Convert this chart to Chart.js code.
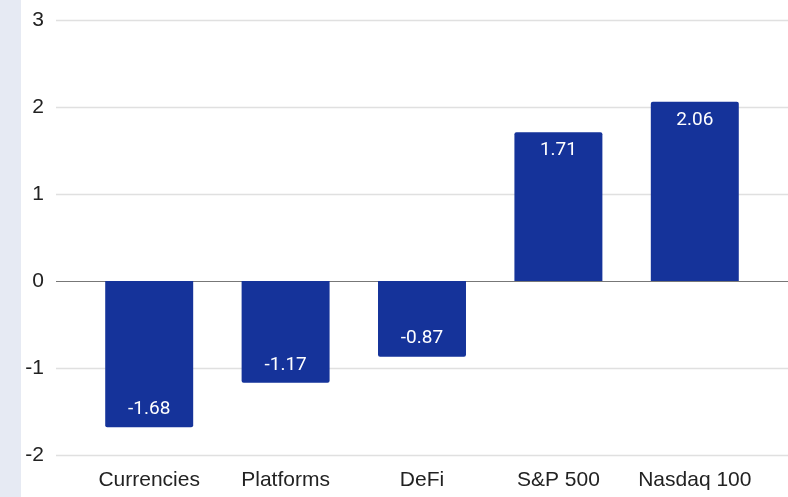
<!DOCTYPE html>
<html>
<head>
<meta charset="utf-8">
<script src="https://cdn.jsdelivr.net/npm/chart.js@4.4.0/dist/chart.umd.min.js"></script>
<style>
  html, body { margin: 0; padding: 0; }
  body { background: linear-gradient(to right, #e6eaf3 0, #e6eaf3 21px, #ffffff 21px); }
  #wrap { width: 788px; height: 497px; position: relative; }
</style>
</head>
<body>
<div id="wrap"><canvas id="chart" width="788" height="497"></canvas></div>
<script>
const categories = ['Currencies', 'Platforms', 'DeFi', 'S&P 500', 'Nasdaq 100'];
const values = [-1.68, -1.17, -0.87, 1.71, 2.06];
const yTicks = [-2, -1, 0, 1, 2, 3];

const barColor = '#15339a';

// full-width horizontal gridlines (they run past the plot area on both sides)
const gridPlugin = {
  id: 'wideGrid',
  beforeDatasetsDraw(chart) {
    const ctx = chart.ctx, y = chart.scales.y;
    ctx.save();
    yTicks.forEach(t => {
      const py = Math.round(y.getPixelForValue(t)) + 0.5;
      ctx.strokeStyle = t === 0 ? '#777777' : '#e0e0e0';
      ctx.lineWidth = t === 0 ? 1.2 : 1.5;
      ctx.beginPath();
      ctx.moveTo(56, py);
      ctx.lineTo(chart.width, py);
      ctx.stroke();
    });
    ctx.restore();
  }
};

const labelPlugin = {
  id: 'barLabels',
  afterDatasetsDraw(chart) {
    const ctx = chart.ctx;
    const meta = chart.getDatasetMeta(0);
    ctx.save();
    ctx.fillStyle = '#ffffff';
    ctx.font = '19px Roboto';
    ctx.textAlign = 'center';
    ctx.textBaseline = 'middle';
    meta.data.forEach((bar, i) => {
      const v = values[i];
      const off = v >= 0 ? 18 : -18;
      ctx.fillText(v.toFixed(2), bar.x, bar.y + off);
    });
    ctx.restore();
  }
};

new Chart(document.getElementById('chart'), {
  type: 'bar',
  data: {
    labels: categories,
    datasets: [{
      data: values,
      backgroundColor: barColor,
      borderRadius: 2,
      borderSkipped: 'start',
      barPercentage: 0.645,
      categoryPercentage: 1.0
    }]
  },
  options: {
    responsive: false,
    animation: false,
    layout: { padding: { left: 21, right: 25, top: 20, bottom: 0 } },
    plugins: { legend: { display: false }, tooltip: { enabled: false } },
    scales: {
      x: {
        grid: { display: false },
        border: { display: false },
        ticks: { color: '#222222', font: { size: 21, family: 'Liberation Sans' }, padding: 5 },
        afterFit(scale) { scale.height = 42; scale.paddingLeft = 0; scale.paddingRight = 0; }
      },
      y: {
        min: -2,
        max: 3,
        afterBuildTicks(scale) { scale.ticks = yTicks.map(v => ({ value: v })); },
        grid: { display: false },
        border: { display: false },
        ticks: { color: '#222222', font: { size: 21, family: 'Liberation Sans' }, padding: 29 },
        afterFit(scale) { scale.width = 60; scale.paddingTop = 0; scale.paddingBottom = 0; }
      }
    }
  },
  plugins: [gridPlugin, labelPlugin]
});
</script>
</body>
</html>
